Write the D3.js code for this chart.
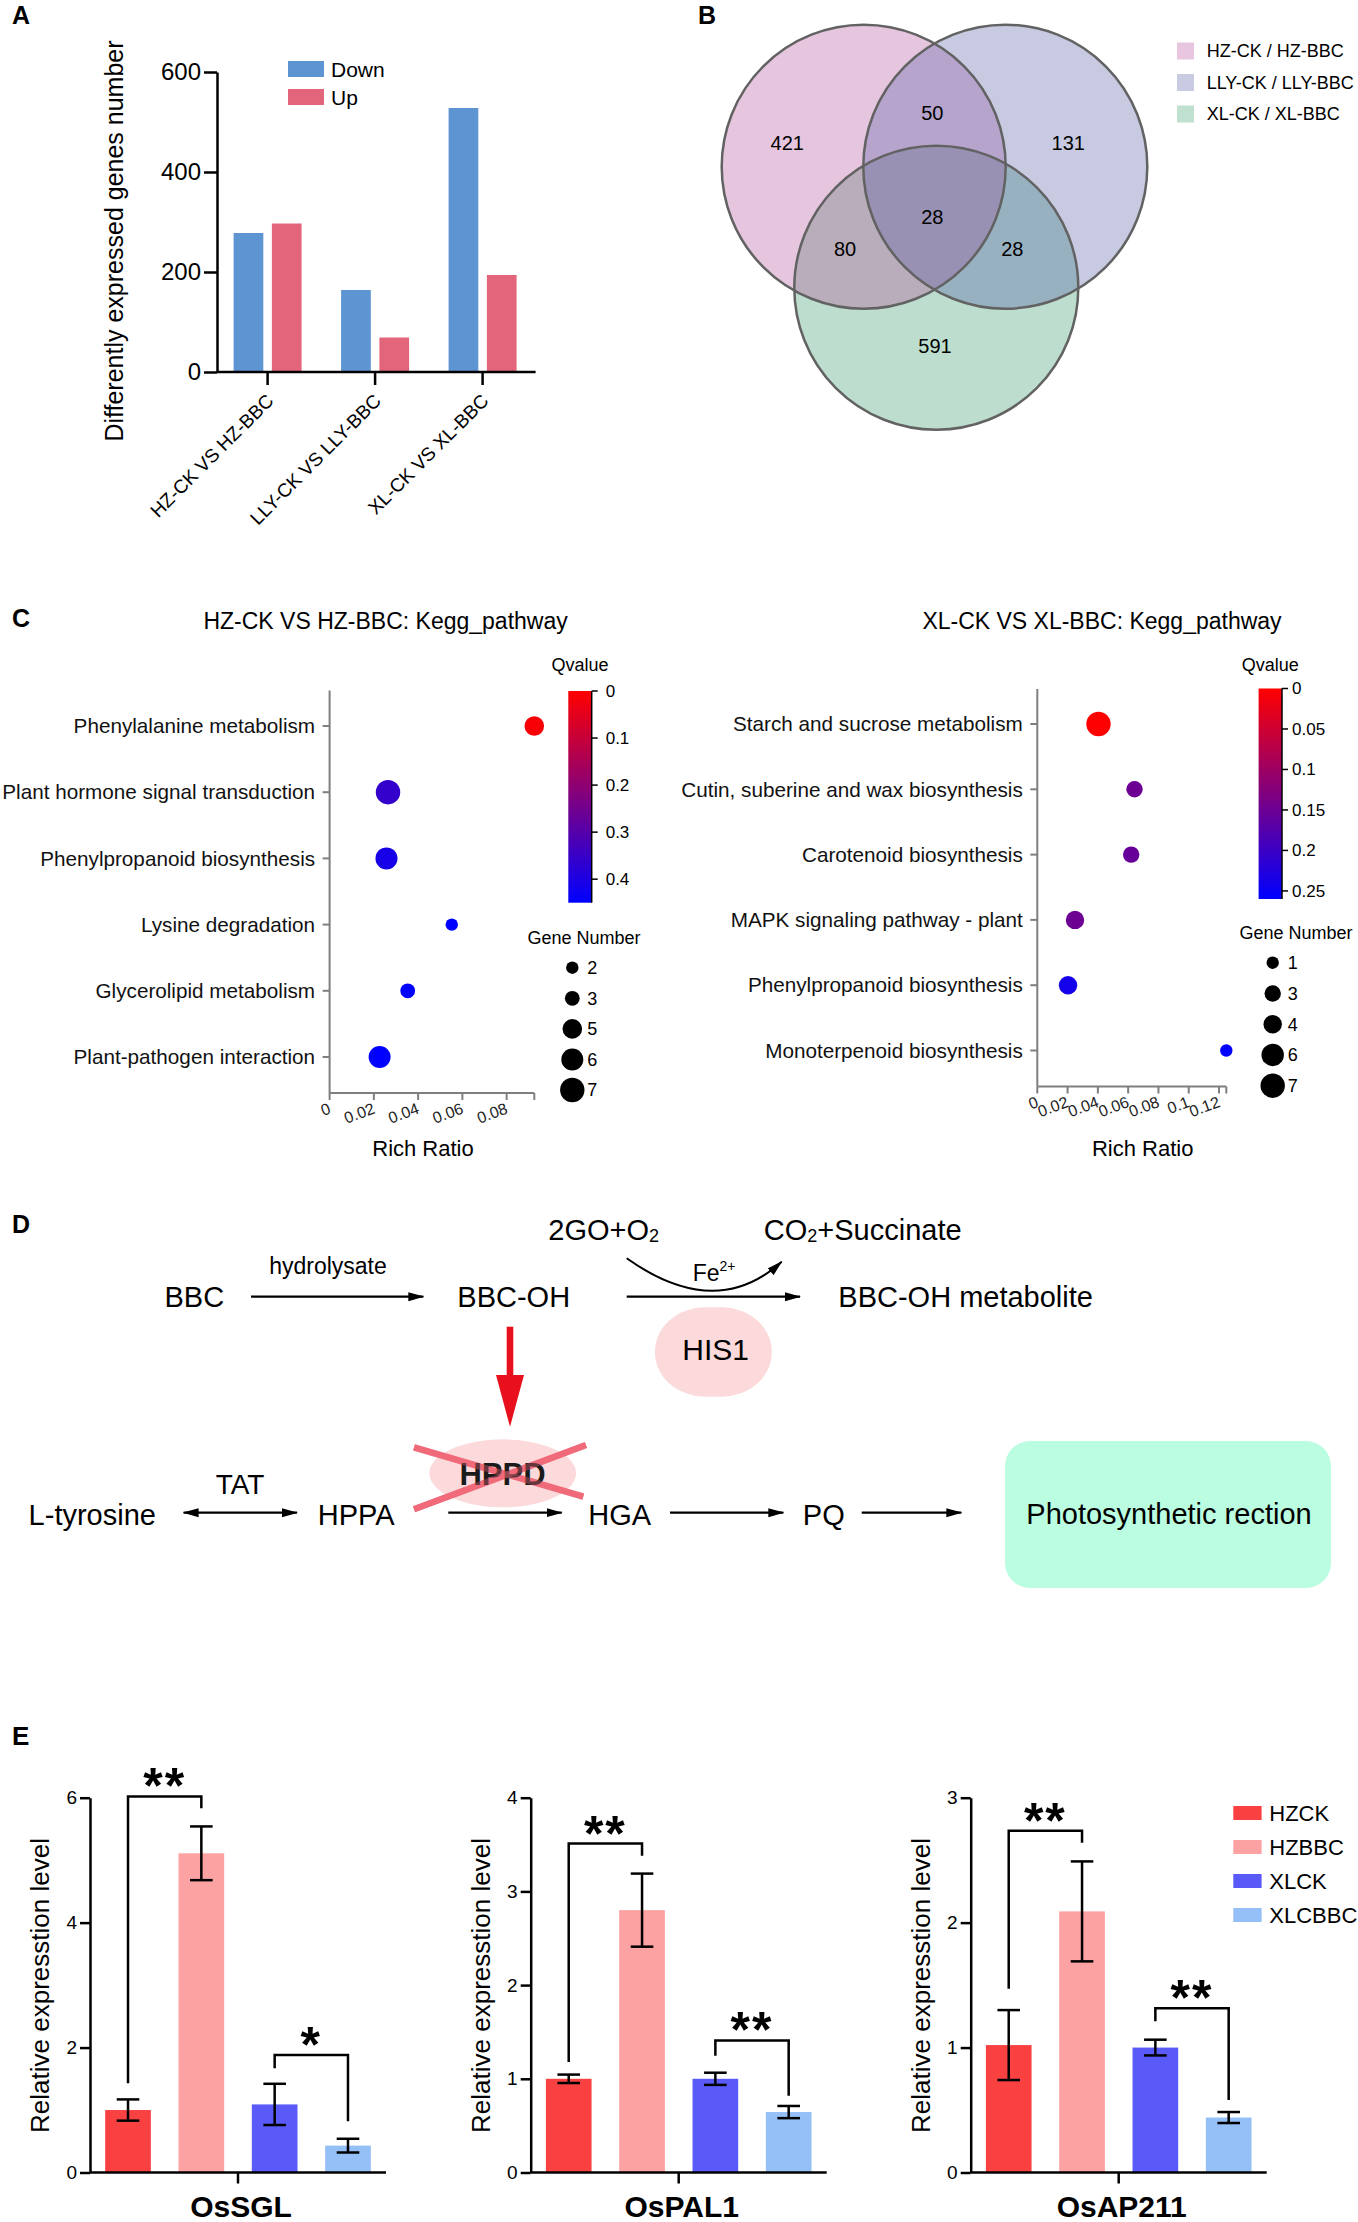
<!DOCTYPE html>
<html><head><meta charset="utf-8">
<script src="https://cdn.jsdelivr.net/npm/d3@7"></script>
<style>
html,body{margin:0;padding:0;background:#fff;}
svg{display:block;}
</style></head><body><div id="chart"></div>
<script>
// ================= DATA =================
// Panel A
const degCategories = ["HZ-CK VS HZ-BBC", "LLY-CK VS LLY-BBC", "XL-CK VS XL-BBC"];
const degSeries = ["Down", "Up"];
const degDown = [278, 164, 528];
const degUp = [297, 69, 194];
const degTicks = [0, 200, 400, 600];

// Panel B
const vennSetNames = ["HZ-CK / HZ-BBC", "LLY-CK / LLY-BBC", "XL-CK / XL-BBC"];
const vennRegions = ["HZ", "LLY", "XL", "HZ&LLY", "HZ&XL", "LLY&XL", "HZ&LLY&XL"];
const vennCounts = [421, 131, 591, 50, 80, 28, 28];

// Panel C (left)
const hzPathways = ["Phenylalanine metabolism", "Plant hormone signal transduction", "Phenylpropanoid biosynthesis", "Lysine degradation", "Glycerolipid metabolism", "Plant-pathogen interaction"];
const hzRichRatio = [0.0925, 0.0264, 0.0257, 0.0552, 0.0353, 0.0226];
const hzGeneNumber = [5, 7, 6, 2, 3, 6];
const hzQvalue = [0.01, 0.36, 0.41, 0.45, 0.45, 0.45];
const hzRichTicks = [0, 0.02, 0.04, 0.06, 0.08];
const hzQTicks = [0, 0.1, 0.2, 0.3, 0.4];
const hzSizeLegend = [2, 3, 5, 6, 7];

// Panel C (right)
const xlPathways = ["Starch and sucrose metabolism", "Cutin, suberine and wax biosynthesis", "Carotenoid biosynthesis", "MAPK signaling pathway - plant", "Phenylpropanoid biosynthesis", "Monoterpenoid biosynthesis"];
const xlRichRatio = [0.0404, 0.0642, 0.0620, 0.0249, 0.0203, 0.1248];
const xlGeneNumber = [7, 3, 3, 4, 4, 1];
const xlQvalue = [0.0, 0.15, 0.155, 0.15, 0.24, 0.26];
const xlRichTicks = [0, 0.02, 0.04, 0.06, 0.08, 0.1, 0.12];
const xlQTicks = [0, 0.05, 0.1, 0.15, 0.2, 0.25];
const xlSizeLegend = [1, 3, 4, 6, 7];

// Panel E
const qpcrGroups = ["HZCK", "HZBBC", "XLCK", "XLCBBC"];
const qpcrGenes = ["OsSGL", "OsPAL1", "OsAP211"];
const osSGLMean = [1.00, 5.11, 1.09, 0.43];
const osSGLErr = [0.17, 0.43, 0.33, 0.11];
const osPAL1Mean = [1.00, 2.80, 1.00, 0.645];
const osPAL1Err = [0.045, 0.39, 0.065, 0.065];
const osAP211Mean = [1.02, 2.09, 1.00, 0.44];
const osAP211Err = [0.28, 0.40, 0.063, 0.044];
const osSGLTicks = [0, 2, 4, 6];
const osPAL1Ticks = [0, 1, 2, 3, 4];
const osAP211Ticks = [0, 1, 2, 3];
const sigPairs = [[0, 1], [2, 3]];
const osSGLSig = ["**", "*"];
const osPAL1Sig = ["**", "**"];
const osAP211Sig = ["**", "**"];
// [bracket top, left leg end, right leg end] in expression units
const osSGLBrackets = [[6.02, 1.43, 5.83], [1.88, 1.67, 0.82]];
const osPAL1Brackets = [[3.51, 1.18, 3.38], [1.41, 1.245, 0.82]];
const osAP211Brackets = [[2.736, 1.47, 2.64], [1.315, 1.21, 0.58]];

// ================= DRAW =================
const FONT = '"Liberation Sans", Arial, Helvetica, sans-serif';
const W = 1358, H = 2222;
const svg = d3.select("#chart").append("svg").attr("width", W).attr("height", H)
  .attr("font-family", FONT);
svg.append("rect").attr("width", W).attr("height", H).attr("fill", "#fff");
const defs = svg.append("defs");

function T(parent, x, y, s, size, o = {}) {
  const t = parent.append("text").attr("x", x).attr("y", y)
    .attr("font-size", size).attr("font-family", FONT)
    .attr("fill", o.fill || "#000").text(s);
  if (o.anchor) t.attr("text-anchor", o.anchor);
  if (o.weight) t.attr("font-weight", o.weight);
  if (o.transform) t.attr("transform", o.transform);
  if (o.dy) t.attr("dy", o.dy);
  if (o.ls) t.attr("letter-spacing", o.ls);
  return t;
}

// panel letters
T(svg, 12, 24, "A", 25, {weight: "bold"});
T(svg, 698, 24, "B", 25, {weight: "bold"});
T(svg, 12, 627, "C", 25, {weight: "bold"});
T(svg, 12, 1233, "D", 25, {weight: "bold"});
T(svg, 12, 1745, "E", 26, {weight: "bold"});

// ---------- Panel A ----------
(function () {
  const g = svg.append("g");
  const y = d3.scaleLinear().domain([0, 600]).range([372, 72]);
  const x0 = d3.scaleBand().domain(degCategories).range([213.85, 536.35]);
  const x1 = d3.scaleBand().domain(degSeries).range([-34, 34]).paddingInner(0.224);
  const col = {Down: "#5c95d2", Up: "#e3657c"};
  const rows = degCategories.map((c, i) => ({c, Down: degDown[i], Up: degUp[i]}));
  g.selectAll("g.grp").data(rows).join("g").attr("class", "grp")
    .attr("transform", d => `translate(${x0(d.c) + x0.bandwidth() / 2},0)`)
    .selectAll("rect").data(d => degSeries.map(s => ({s, v: d[s]}))).join("rect")
    .attr("x", d => x1(d.s)).attr("width", x1.bandwidth())
    .attr("y", d => y(d.v)).attr("height", d => y(0) - y(d.v))
    .attr("fill", d => col[d.s]);

  const ya = g.append("g").attr("transform", "translate(217,0)")
    .call(d3.axisLeft(y).tickValues(degTicks).tickSize(13).tickSizeOuter(0).tickPadding(3));
  ya.attr("font-family", FONT).attr("font-size", 24);
  ya.select(".domain").attr("stroke", "#000").attr("stroke-width", 2.5);
  ya.selectAll(".tick line").attr("stroke", "#000").attr("stroke-width", 2.5);
  ya.selectAll(".tick text").attr("fill", "#000");

  g.append("line").attr("x1", 217).attr("x2", 535.6).attr("y1", y(0)).attr("y2", y(0))
    .attr("stroke", "#000").attr("stroke-width", 2.5);
  const xa = g.append("g").attr("transform", `translate(0,${y(0)})`)
    .call(d3.axisBottom(x0).tickSize(13).tickSizeOuter(0));
  xa.attr("font-family", FONT).attr("font-size", 19);
  xa.select(".domain").remove();
  xa.selectAll(".tick line").attr("stroke", "#000").attr("stroke-width", 2.5);
  xa.selectAll(".tick text").attr("x", 0).attr("y", 0).attr("dy", "0")
    .attr("text-anchor", "end").attr("fill", "#000")
    .attr("transform", "translate(7,30) rotate(-45)");

  T(g, 0, 0, "Differently expressed genes number", 25, {anchor: "middle", transform: "translate(114,241) rotate(-90)", dy: "0.35em"});

  const lg = g.append("g");
  degSeries.forEach((s, i) => {
    lg.append("rect").attr("x", 288).attr("y", 61 + i * 28).attr("width", 36).attr("height", 16).attr("fill", col[s]);
    T(lg, 331, 77 + i * 28, s, 21);
  });
})();

// ---------- Panel B ----------
(function () {
  const g = svg.append("g");
  const R = 142;
  const cs = [[863.7, 166.7], [1005.3, 166.7], [936.3, 287.7]];
  const ids = ["vA", "vB", "vC"];
  cs.forEach((c, i) => defs.append("clipPath").attr("id", ids[i]).append("circle")
    .attr("cx", c[0]).attr("cy", c[1]).attr("r", R));
  const base = ["#e6c5de", "#c8cae2", "#bddece"];
  const circ = (p, i, fill) => p.append("circle").attr("cx", cs[i][0]).attr("cy", cs[i][1]).attr("r", R).attr("fill", fill);
  cs.forEach((c, i) => circ(g, i, base[i]));
  circ(g.append("g").attr("clip-path", "url(#vB)"), 0, "#b6a4cd");
  circ(g.append("g").attr("clip-path", "url(#vC)"), 0, "#b9adbb");
  circ(g.append("g").attr("clip-path", "url(#vC)"), 1, "#98b1c0");
  circ(g.append("g").attr("clip-path", "url(#vC)").append("g").attr("clip-path", "url(#vB)"), 0, "#9891b3");
  cs.forEach((c, i) => g.append("circle").attr("cx", c[0]).attr("cy", c[1]).attr("r", R)
    .attr("fill", "none").attr("stroke", "#626262").attr("stroke-width", 2.5));

  const pos = [[787.3, 142.7], [1068.3, 142.7], [935, 346], [932.3, 112.7], [845, 249.3], [1012.3, 249.3], [932.3, 216.7]];
  vennCounts.forEach((v, i) => T(g, pos[i][0], pos[i][1], v, 20, {anchor: "middle", dy: "0.35em"}));

  const lcol = ["#e8c6df", "#c9cbe3", "#c0e0d0"];
  vennSetNames.forEach((s, i) => {
    const cy = 51 + i * 31.5;
    g.append("rect").attr("x", 1177).attr("y", cy - 8.5).attr("width", 17).attr("height", 17).attr("fill", lcol[i]);
    T(g, 1206.7, cy, s, 18, {dy: "0.35em"});
  });
})();

// ---------- Panel C ----------
function kegg(o) {
  const g = svg.append("g");
  const y = d3.scalePoint().domain(o.pathways).range([o.yFirst, o.yLast]);
  const maxR = d3.max(o.rich);
  const x = d3.scaleLinear().domain([0, maxR]).range([o.axisX, o.axisEnd]);
  const r = d3.scaleLinear().domain(o.sizeDomain).range([6.2, 12.2]);
  const c = d3.scaleLinear().domain([0, o.qmax]).range(["#ff0000", "#0000ff"]);
  const axisCol = "#7f7f7f";

  T(g, o.titleX, 629, o.title, 23, {anchor: "middle"});
  g.append("line").attr("x1", o.axisX).attr("x2", o.axisX).attr("y1", o.yTop).attr("y2", o.xAxisY)
    .attr("stroke", axisCol).attr("stroke-width", 2);
  g.append("line").attr("x1", o.axisX).attr("x2", x(maxR)).attr("y1", o.xAxisY).attr("y2", o.xAxisY)
    .attr("stroke", axisCol).attr("stroke-width", 2);
  o.pathways.forEach(p => {
    g.append("line").attr("x1", o.axisX - 7).attr("x2", o.axisX).attr("y1", y(p)).attr("y2", y(p))
      .attr("stroke", axisCol).attr("stroke-width", 2);
    T(g, o.axisX - 14.5, y(p), p, 20.7, {anchor: "end", dy: "0.35em", fill: "#111"});
  });
  o.richTicks.concat([maxR]).forEach(t => {
    g.append("line").attr("x1", x(t)).attr("x2", x(t)).attr("y1", o.xAxisY).attr("y2", o.xAxisY + 7)
      .attr("stroke", axisCol).attr("stroke-width", 2);
  });
  o.richTicks.forEach(t => {
    T(g, 0, 0, String(t), 16, {anchor: "end", transform: `translate(${x(t) + 2},${o.xAxisY + 20}) rotate(-20)`, fill: "#222"});
  });
  T(g, o.rrX, 1156, "Rich Ratio", 22, {anchor: "middle"});

  const rows = o.pathways.map((p, i) => ({p, rr: o.rich[i], n: o.genes[i], q: o.q[i]}));
  g.selectAll("circle.dot").data(rows).join("circle").attr("class", "dot")
    .attr("cx", d => x(d.rr)).attr("cy", d => y(d.p)).attr("r", d => r(d.n)).attr("fill", d => c(d.q));

  const gid = "grad" + o.id;
  const lgr = defs.append("linearGradient").attr("id", gid).attr("x1", 0).attr("x2", 0).attr("y1", 0).attr("y2", 1);
  lgr.append("stop").attr("offset", "0%").attr("stop-color", c(0));
  lgr.append("stop").attr("offset", "50%").attr("stop-color", c(o.qmax / 2));
  lgr.append("stop").attr("offset", "100%").attr("stop-color", c(o.qmax));
  const qy = d3.scaleLinear().domain([0, o.qmax]).range([o.barTop, o.barBottom]);
  g.append("rect").attr("x", o.barX).attr("y", o.barTop).attr("width", 23.4)
    .attr("height", o.barBottom - o.barTop).attr("fill", `url(#${gid})`);
  const bx = o.barX + 23.4;
  g.append("line").attr("x1", bx).attr("x2", bx).attr("y1", o.barTop).attr("y2", o.barBottom)
    .attr("stroke", "#000").attr("stroke-width", 1.5);
  o.qTicks.forEach(t => {
    g.append("line").attr("x1", bx).attr("x2", bx + 6).attr("y1", qy(t)).attr("y2", qy(t))
      .attr("stroke", "#000").attr("stroke-width", 1.5);
    T(g, bx + o.qLabelOff, qy(t), String(t), 17, {dy: "0.35em"});
  });
  T(g, o.barX + 11.7, 671, "Qvalue", 18, {anchor: "middle"});

  T(g, o.gnX, o.gnY, "Gene Number", 18, {anchor: "middle"});
  const ly = d3.scalePoint().domain(o.sizeLegend).range(o.legRange);
  o.sizeLegend.forEach(v => {
    g.append("circle").attr("cx", o.legX).attr("cy", ly(v)).attr("r", r(v)).attr("fill", "#000");
    T(g, o.legX + 15, ly(v), String(v), 18, {dy: "0.35em"});
  });
}

kegg({
  id: "hz", title: "HZ-CK VS HZ-BBC: Kegg_pathway", titleX: 385.6,
  pathways: hzPathways, rich: hzRichRatio, genes: hzGeneNumber, q: hzQvalue,
  richTicks: hzRichTicks, qTicks: hzQTicks, sizeLegend: hzSizeLegend, sizeDomain: [2, 7], qmax: 0.45,
  axisX: 329.6, axisEnd: 534.3, yTop: 690.6, xAxisY: 1093, yFirst: 726, yLast: 1057,
  rrX: 423, barX: 568.3, barTop: 691, barBottom: 902.7, qLabelOff: 14,
  gnX: 584, gnY: 944, legX: 572.3, legRange: [967.7, 1090]
});
kegg({
  id: "xl", title: "XL-CK VS XL-BBC: Kegg_pathway", titleX: 1102,
  pathways: xlPathways, rich: xlRichRatio, genes: xlGeneNumber, q: xlQvalue,
  richTicks: xlRichTicks, qTicks: xlQTicks, sizeLegend: xlSizeLegend, sizeDomain: [1, 7], qmax: 0.26,
  axisX: 1037.3, axisEnd: 1226.3, yTop: 689, xAxisY: 1086.5, yFirst: 724, yLast: 1050.5,
  rrX: 1142.7, barX: 1258.6, barTop: 688.5, barBottom: 899, qLabelOff: 10,
  gnX: 1296, gnY: 939, legX: 1272.7, legRange: [962.7, 1085.7]
});

// ---------- Panel D ----------
(function () {
  const g = svg.append("g");
  defs.append("marker").attr("id", "ah").attr("viewBox", "0 -5 16 10")
    .attr("refX", 15).attr("refY", 0).attr("markerWidth", 16).attr("markerHeight", 10)
    .attr("markerUnits", "userSpaceOnUse").attr("orient", "auto-start-reverse")
    .append("path").attr("d", "M0,-4.5L16,0L0,4.5Z").attr("fill", "#000");
  const arrow = (x1, y1, x2, y2, both) => {
    const l = g.append("line").attr("x1", x1).attr("y1", y1).attr("x2", x2).attr("y2", y2)
      .attr("stroke", "#000").attr("stroke-width", 2.3).attr("marker-end", "url(#ah)");
    if (both) l.attr("marker-start", "url(#ah)");
  };
  const F = 29;
  T(g, 164.5, 1306.7, "BBC", F);
  T(g, 328, 1274, "hydrolysate", 23, {anchor: "middle"});
  arrow(251, 1296.7, 423.3, 1296.7);
  T(g, 457.3, 1306.7, "BBC-OH", F);
  const t1 = T(g, 548.3, 1240, "2GO+O", F);
  t1.append("tspan").attr("font-size", 18).attr("dy", 2).text("2");
  const t2 = T(g, 763.8, 1240, "CO", F);
  t2.append("tspan").attr("font-size", 18).attr("dy", 2).text("2");
  t2.append("tspan").attr("dy", -2).text("+Succinate");
  g.append("path").attr("d", "M626.7,1258.3 Q715.8,1321.4 781.7,1261.7").attr("fill", "none")
    .attr("stroke", "#000").attr("stroke-width", 2).attr("marker-end", "url(#ah)");
  const fe = T(g, 692.7, 1280.7, "Fe", 23);
  fe.append("tspan").attr("font-size", 14).attr("dy", -10).text("2+");
  arrow(626.7, 1296.7, 800, 1296.7);
  T(g, 838.3, 1306.7, "BBC-OH metabolite", F);
  g.append("rect").attr("x", 655).attr("y", 1307.3).attr("width", 116.7).attr("height", 89.4)
    .attr("rx", 50).attr("ry", 44).attr("fill", "#fcd9da");
  T(g, 715.7, 1360, "HIS1", 30, {anchor: "middle"});
  g.append("rect").attr("x", 506.7).attr("y", 1326.7).attr("width", 6.6).attr("height", 49).attr("fill", "#e8101c");
  g.append("path").attr("d", "M496,1375 L524,1375 L510,1426.7 Z").attr("fill", "#e8101c");
  // HPPD crossed out
  g.append("ellipse").attr("cx", 502.7).attr("cy", 1473.3).attr("rx", 73.3).attr("ry", 34).attr("fill", "#fcd9da");
  const xLines = [[414, 1447.3, 583.3, 1496.7], [414, 1509.3, 586, 1445]];
  xLines.forEach(l => g.append("line").attr("x1", l[0]).attr("y1", l[1]).attr("x2", l[2]).attr("y2", l[3])
    .attr("stroke", "#f06a7a").attr("stroke-width", 6.5));
  T(g, 502.5, 1485, "HPPD", 31, {anchor: "middle", weight: "bold", fill: "#1a1a1a"});
  xLines.forEach(l => g.append("line").attr("x1", l[0]).attr("y1", l[1]).attr("x2", l[2]).attr("y2", l[3])
    .attr("stroke", "#f06a7a").attr("stroke-width", 6.5).attr("opacity", 0.35));
  // bottom row
  T(g, 28.6, 1525, "L-tyrosine", F);
  T(g, 240, 1494, "TAT", 28, {anchor: "middle"});
  arrow(183.6, 1512.7, 297, 1512.7, true);
  T(g, 317.8, 1525, "HPPA", F);
  arrow(448.3, 1512.7, 561.7, 1512.7);
  T(g, 588.3, 1525, "HGA", F);
  arrow(670, 1512.7, 783.3, 1512.7);
  T(g, 802.8, 1525, "PQ", F);
  arrow(861.7, 1512.7, 961.3, 1512.7);
  g.append("rect").attr("x", 1005).attr("y", 1441).attr("width", 326).attr("height", 147)
    .attr("rx", 25).attr("fill", "#bbfde1");
  T(g, 1169, 1524, "Photosynthetic rection", F, {anchor: "middle"});
})();

// ---------- Panel E ----------
const qColors = ["#fa4141", "#fda2a2", "#5a5af9", "#94bff7"];
const AXLEN = 296;
function qpcr(o) {
  const g = svg.append("g");
  const y = d3.scaleLinear().domain([0, d3.max(o.ticks)]).range([2172.5, 1797.7]);
  const x = d3.scaleBand().domain(qpcrGroups).range([o.ax, o.ax + AXLEN]).paddingInner(0.377).paddingOuter(0.207);
  const bw = x.bandwidth();
  const rows = qpcrGroups.map((k, i) => ({k, m: o.mean[i], e: o.err[i], c: qColors[i]}));
  g.selectAll("rect.bar").data(rows).join("rect").attr("class", "bar")
    .attr("x", d => x(d.k)).attr("width", bw).attr("y", d => y(d.m)).attr("height", d => y(0) - y(d.m))
    .attr("fill", d => d.c);
  rows.forEach(d => {
    const cx = x(d.k) + bw / 2;
    g.append("line").attr("x1", cx).attr("x2", cx).attr("y1", y(d.m - d.e)).attr("y2", y(d.m + d.e))
      .attr("stroke", "#000").attr("stroke-width", 2.5);
    [d.m - d.e, d.m + d.e].forEach(v => g.append("line").attr("x1", cx - 11.3).attr("x2", cx + 11.3)
      .attr("y1", y(v)).attr("y2", y(v)).attr("stroke", "#000").attr("stroke-width", 2.5));
  });
  const ya = g.append("g").attr("transform", `translate(${o.ax},0)`)
    .call(d3.axisLeft(y).tickValues(o.ticks).tickFormat(d3.format("d")).tickSize(10).tickSizeOuter(0).tickPadding(3));
  ya.attr("font-family", FONT).attr("font-size", 19);
  ya.select(".domain").attr("stroke", "#000").attr("stroke-width", 2.5);
  ya.selectAll(".tick line").attr("stroke", "#000").attr("stroke-width", 2.5);
  ya.selectAll(".tick text").attr("fill", "#000");
  g.append("line").attr("x1", o.ax).attr("x2", o.ax + AXLEN).attr("y1", y(0)).attr("y2", y(0))
    .attr("stroke", "#000").attr("stroke-width", 2.5);
  const mid = o.ax + AXLEN / 2;
  g.append("line").attr("x1", mid).attr("x2", mid).attr("y1", y(0)).attr("y2", y(0) + 11)
    .attr("stroke", "#000").attr("stroke-width", 2.5);
  T(g, mid + 3, 2217, o.gene, 30, {anchor: "middle", weight: "bold"});
  T(g, 0, 0, "Relative expresstion level", 26, {anchor: "middle", dy: "0.35em", transform: `translate(${o.ax - 50},1985.5) rotate(-90)`});
  sigPairs.forEach((p, i) => {
    const [top, le, re] = o.brackets[i];
    const xl = x(qpcrGroups[p[0]]) + bw / 2, xr = x(qpcrGroups[p[1]]) + bw / 2;
    g.append("path").attr("d", `M${xl},${y(le)}V${y(top)}H${xr}V${y(re)}`)
      .attr("fill", "none").attr("stroke", "#000").attr("stroke-width", 2.5);
    T(g, (xl + xr) / 2, y(top) + 7, o.sig[i], 50, {anchor: "middle", weight: "bold", ls: 2});
  });
}
qpcr({gene: qpcrGenes[0], mean: osSGLMean, err: osSGLErr, ticks: osSGLTicks, sig: osSGLSig, brackets: osSGLBrackets, ax: 90});
qpcr({gene: qpcrGenes[1], mean: osPAL1Mean, err: osPAL1Err, ticks: osPAL1Ticks, sig: osPAL1Sig, brackets: osPAL1Brackets, ax: 530.7});
qpcr({gene: qpcrGenes[2], mean: osAP211Mean, err: osAP211Err, ticks: osAP211Ticks, sig: osAP211Sig, brackets: osAP211Brackets, ax: 970.7});

// E legend
qpcrGroups.forEach((k, i) => {
  const cy = 1813 + i * 34;
  svg.append("rect").attr("x", 1233.3).attr("y", cy - 7).attr("width", 28.3).attr("height", 14).attr("fill", qColors[i]);
  T(svg, 1269.3, cy, k, 22, {dy: "0.36em"});
});
</script></body></html>
